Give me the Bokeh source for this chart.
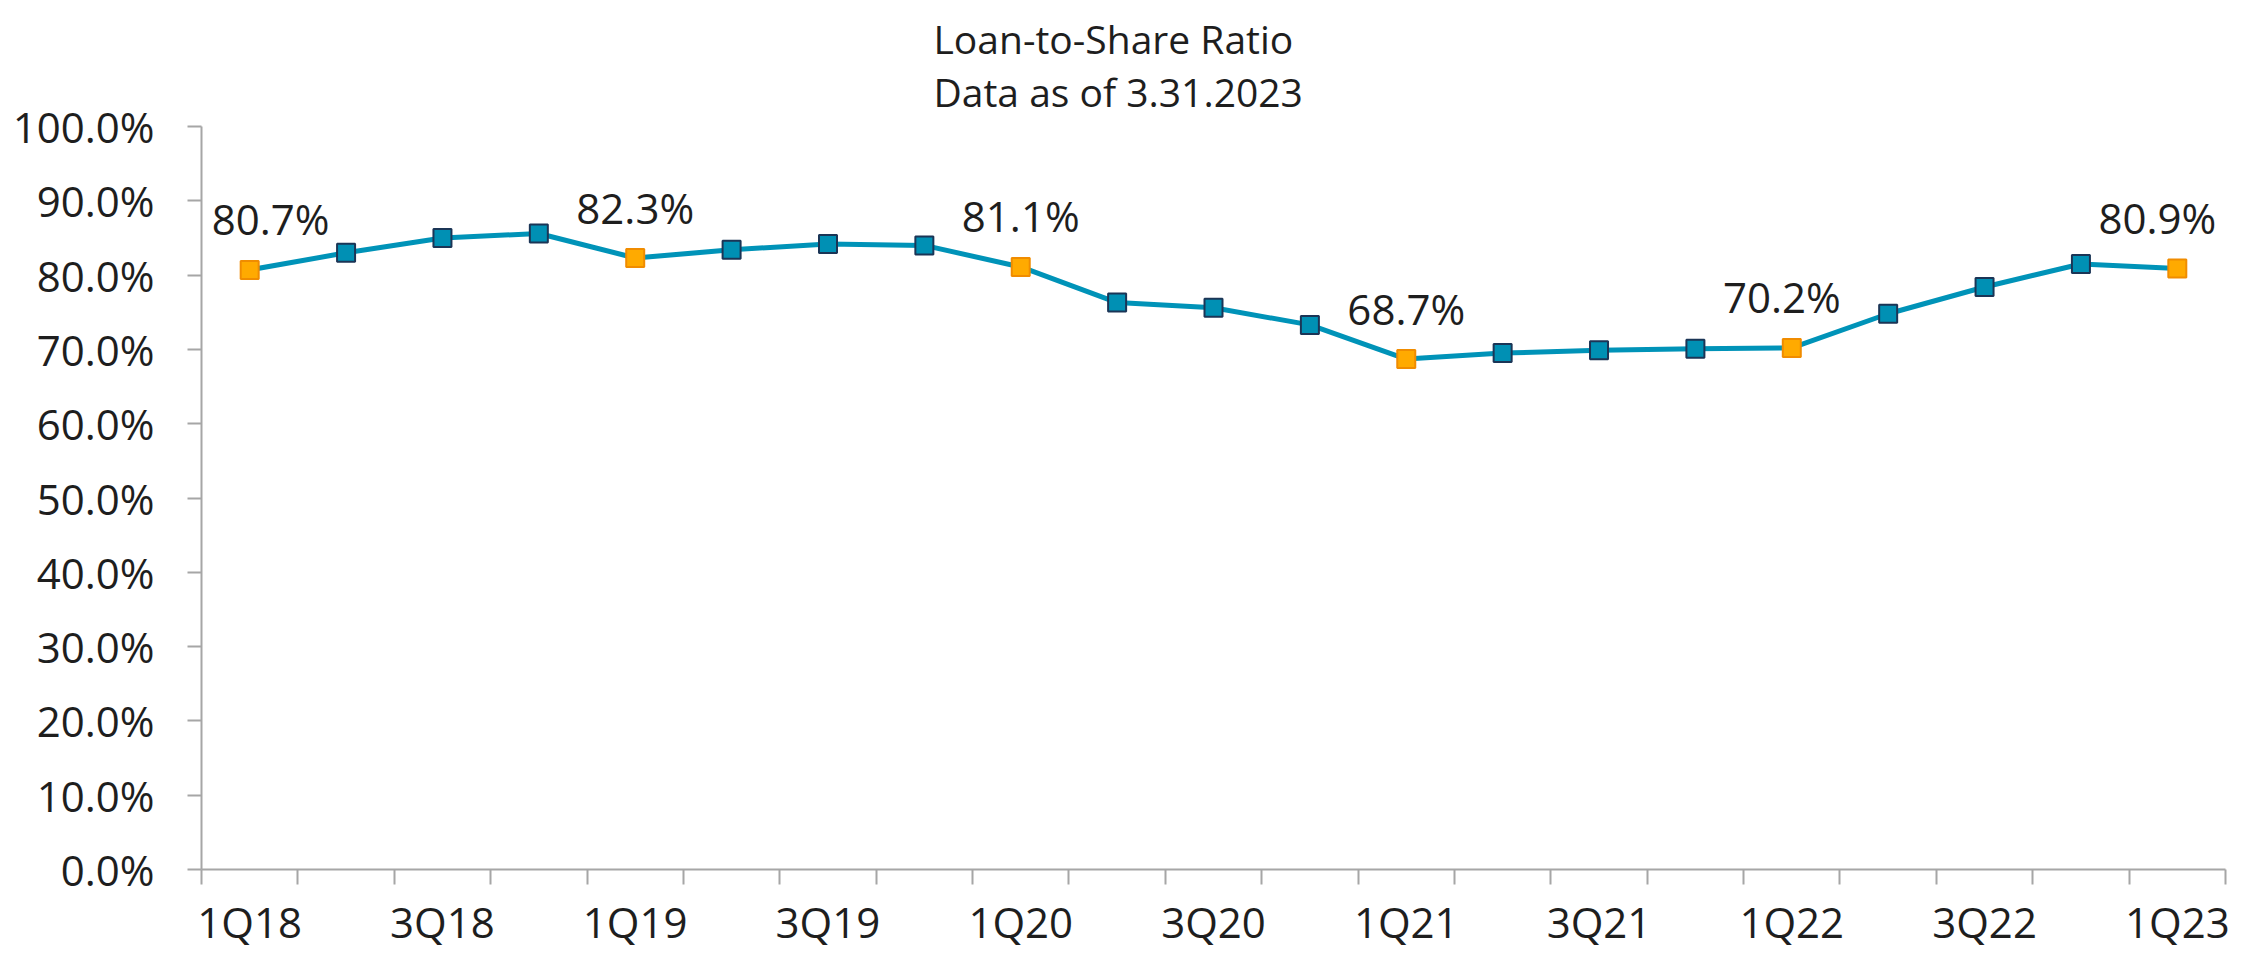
from bokeh.plotting import figure
from bokeh.models import Range1d, FixedTicker, ColumnDataSource, Title
from bokeh.core.properties import value
from bokeh.embed import file_html
from bokeh.resources import INLINE

quarters = ["1Q18", "2Q18", "3Q18", "4Q18", "1Q19", "2Q19", "3Q19", "4Q19",
            "1Q20", "2Q20", "3Q20", "4Q20", "1Q21", "2Q21", "3Q21", "4Q21",
            "1Q22", "2Q22", "3Q22", "4Q22", "1Q23"]
ratio = [80.7, 83.0, 85.0, 85.6, 82.3, 83.4, 84.2, 84.0, 81.1, 76.3, 75.6,
         73.3, 68.7, 69.5, 69.9, 70.1, 70.2, 74.8, 78.4, 81.5, 80.9]
y_ticks = [0, 10, 20, 30, 40, 50, 60, 70, 80, 90, 100]
title_lines = ["Loan-to-Share Ratio", "Data as of 3.31.2023"]

FONT = "Open Sans"
TXT = "#1e1e1e"
AXC = "#a6a6a6"
LINEC = "#0093b8"

W, H = 2249, 952
FL, FR, FT, FB = 201, 2225, 124, 871   # frame edges in page pixels
n = len(quarters)

xs = [i + 0.5 for i in range(n)]
hl = [q.startswith("1Q") for q in quarters]

p = figure(width=W, height=H, output_backend="svg", toolbar_location=None,
           x_range=Range1d(0, n), y_range=Range1d(0, 100),
           min_border_left=FL, min_border_right=W - FR, min_border_top=FT,
           min_border_bottom=H - FB)
p.outline_line_color = None
p.grid.visible = False
p.background_fill_color = "white"
p.border_fill_color = "white"

# two-line title
p.add_layout(Title(text="\n".join(title_lines), align="left", offset=732,
                   text_font=FONT, text_font_size="39px", text_font_style="normal",
                   text_color=TXT, text_line_height=1.0, standoff=18), "above")

# y axis
ya = p.yaxis[0]
ya.ticker = FixedTicker(ticks=y_ticks)
ya.major_label_overrides = {v: f"{v:.1f}%" for v in y_ticks}
ya.axis_line_color = AXC
ya.axis_line_width = 2
ya.major_tick_line_color = AXC
ya.major_tick_line_width = 2
ya.major_tick_in = 0
ya.major_tick_out = 14
ya.minor_tick_line_color = None
ya.major_label_text_font = FONT
ya.major_label_text_font_size = "42px"
ya.major_label_text_color = TXT
ya.major_label_standoff = 33

# x axis: tick marks between categories (minor), labels on every other category
xa = p.xaxis[0]
lab_idx = list(range(0, n, 2))
xa.ticker = FixedTicker(ticks=[xs[i] for i in lab_idx], minor_ticks=list(range(n + 1)))
xa.major_label_overrides = {xs[i]: quarters[i] for i in lab_idx}
xa.axis_line_color = AXC
xa.axis_line_width = 2
xa.major_tick_line_color = None
xa.major_tick_in = 0
xa.major_tick_out = 0
xa.minor_tick_line_color = AXC
xa.minor_tick_line_width = 2
xa.minor_tick_in = 0
xa.minor_tick_out = 15
xa.major_label_text_font = FONT
xa.major_label_text_font_size = "42px"
xa.major_label_text_color = TXT
xa.major_label_standoff = 8

src = ColumnDataSource(dict(
    x=xs, y=ratio,
    fill=["#ffaa00" if h else "#0090b4" for h in hl],
    edge=["#f08c00" if h else "#1b3556" for h in hl],
))
p.line("x", "y", source=src, line_color=LINEC, line_width=5)
p.scatter("x", "y", source=src, marker="square", size=18,
          fill_color="fill", line_color="edge", line_width=2)

# data labels on highlighted points (shifted to stay inside the plot area)
idx = [i for i, h in enumerate(hl) if h]
shift = {0: 21, 16: -10, n - 1: -20}
lsrc = ColumnDataSource(dict(
    x=[xs[i] for i in idx], y=[ratio[i] for i in idx],
    t=[f"{ratio[i]:.1f}%" for i in idx], xo=[shift.get(i, 0) for i in idx],
))
p.text("x", "y", text="t", source=lsrc, x_offset="xo", y_offset=-51,
       text_align="center", text_baseline="alphabetic",
       text_font=value(FONT), text_font_size="42px", text_color=TXT)

open("out.html", "w").write(file_html(p, INLINE))
